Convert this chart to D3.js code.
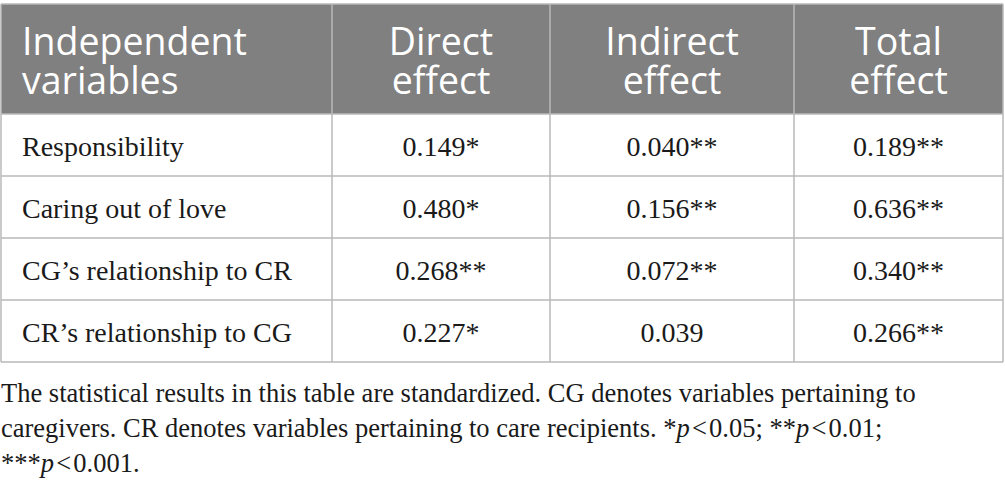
<!DOCTYPE html>
<html>
<head>
<meta charset="utf-8">
<script src="https://cdn.jsdelivr.net/npm/d3@7"></script>
<style>
  html, body { margin: 0; padding: 0; background: #fff; }
  svg { display: block; }
</style>
</head>
<body>
<svg id="chart" width="1005" height="492"></svg>
<script>

// Table content
const headers = [["Independent", "variables"], ["Direct", "effect"], ["Indirect", "effect"], ["Total", "effect"]]
const rowLabels = ["Responsibility", "Caring out of love", "CG\u2019s relationship to CR", "CR\u2019s relationship to CG"]
const directEffect = ["0.149*", "0.480*", "0.268**", "0.227*"]
const indirectEffect = ["0.040**", "0.156**", "0.072**", "0.039"]
const totalEffect = ["0.189**", "0.636**", "0.340**", "0.266**"]

// Layout
const colEdges = [1, 332, 550, 794, 1003]
const tableTop = 4
const headerBottom = 114
const tableBottom = 362
const headerFill = "#808080"
const lineColor = "#b8b8b8"
const sansFont = "'Open Sans', 'Noto Sans', sans-serif"
const serifFont = "'Liberation Serif', 'DejaVu Serif', serif"

const svg = d3.select('#chart')

const yRow = d3.scaleBand()
    .domain(d3.range(rowLabels.length))
    .range([headerBottom, tableBottom])
    .padding(0)

const colCenter = i => (colEdges[i] + colEdges[i+1]) / 2

// Header background
svg.append('rect')
    .attr('x', colEdges[0])
    .attr('y', tableTop)
    .attr('width', colEdges[colEdges.length-1] - colEdges[0])
    .attr('height', headerBottom - tableTop)
    .style('fill', headerFill)

// Header text
const headerGroup = svg.selectAll('text.header')
    .data(headers)
    .enter()
    .append('text')
    .classed('header', true)
    .attr('x', (_,i) => i == 0 ? colEdges[0] + 21 : colCenter(i))
    .attr('text-anchor', (_,i) => i == 0 ? 'start' : 'middle')
    .style('font-family', sansFont)
    .style('font-size', '37.5px')
    .style('fill', '#fff')

headerGroup.selectAll('tspan')
    .data(d => d)
    .enter()
    .append('tspan')
    .attr('x', function(){ return d3.select(this.parentNode).attr('x') })
    .attr('y', (_,j) => 55 + j * 39)
    .text(d => d)

// Body columns
const bodyCols = [rowLabels, directEffect, indirectEffect, totalEffect]

bodyCols.forEach(function(col, ci){
    svg.selectAll('text.col' + ci)
        .data(col)
        .enter()
        .append('text')
        .classed('col' + ci, true)
        .attr('x', ci == 0 ? colEdges[0] + 21 : colCenter(ci))
        .attr('y', (_,i) => yRow(i) + yRow.bandwidth() / 2)
        .attr('dy', '0.4em')
        .attr('text-anchor', ci == 0 ? 'start' : 'middle')
        .style('font-family', serifFont)
        .style('font-size', '28px')
        .style('fill', '#1a1a1a')
        .text(d => d)
})

// Grid lines
const hLines = [tableTop].concat(yRow.domain().map(i => yRow(i)), [tableBottom])
svg.selectAll('line.h')
    .data(hLines)
    .enter()
    .append('line')
    .classed('h', true)
    .attr('x1', colEdges[0])
    .attr('x2', colEdges[colEdges.length-1])
    .attr('y1', d => d)
    .attr('y2', d => d)
    .style('stroke', lineColor)
    .style('stroke-width', 1.5)

svg.selectAll('line.v')
    .data(colEdges)
    .enter()
    .append('line')
    .classed('v', true)
    .attr('x1', d => d)
    .attr('x2', d => d)
    .attr('y1', tableTop)
    .attr('y2', tableBottom)
    .style('stroke', lineColor)
    .style('stroke-width', 1.5)

// Footnote
const footnoteLines = [
    [{t: "The statistical results in this table are standardized. CG denotes variables pertaining to"}],
    [{t: "caregivers. CR denotes variables pertaining to care recipients. *"}, {t: "p", i: true}, {t: "\u200a<\u200a0.05; **"}, {t: "p", i: true}, {t: "\u200a<\u200a0.01;"}],
    [{t: "***"}, {t: "p", i: true}, {t: "\u200a<\u200a0.001."}]
]

const footnote = svg.selectAll('text.footnote')
    .data(footnoteLines)
    .enter()
    .append('text')
    .classed('footnote', true)
    .attr('x', 1)
    .attr('y', (_,i) => 402 + i * 35)
    .style('font-family', serifFont)
    .style('font-size', '26.5px')
    .style('fill', '#1a1a1a')

footnote.selectAll('tspan')
    .data(d => d)
    .enter()
    .append('tspan')
    .style('font-style', d => d.i ? 'italic' : 'normal')
    .text(d => d.t)

</script>
</body>
</html>
